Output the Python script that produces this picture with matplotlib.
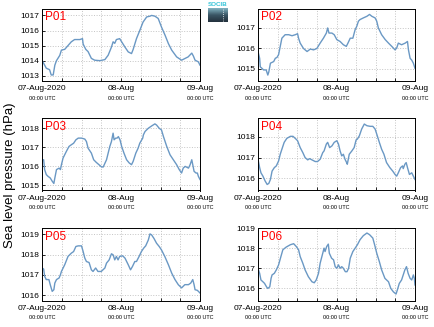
import numpy as np
import matplotlib
matplotlib.use('Agg')
import matplotlib.pyplot as plt
from matplotlib.colors import LinearSegmentedColormap

plt.rcParams['font.family'] = ['Liberation Sans', 'DejaVu Sans']

# Hours since 07-Aug-2020 00:00 UTC and sea level pressure (hPa) for each station
p01_hours = [0, 0.8, 1.3, 2.3, 2.8, 3.4, 3.9, 4.4, 5.4, 5.9, 6.9, 7.9, 8.9, 9.9, 11.5, 12.3, 12.5, 13.3,
             14.0, 15.0, 16.0, 17.6, 19.1, 20.1, 21.1, 21.6, 22.1, 22.6, 23.6, 24.2, 25.2, 26.2, 27.2,
             27.7, 28.7, 29.7, 30.7, 31.8, 32.8, 33.3, 34.3, 35.3, 36.3, 37.4, 38.4, 39.4, 40.9, 42.4,
             43.4, 44.4, 45.5, 46.0, 46.5, 47.5, 48]
p01_values = [1014.03, 1013.7, 1013.5, 1013.4, 1013.05, 1013.05, 1013.7, 1014.0, 1014.35, 1014.7, 1014.75,
              1015.0, 1015.25, 1015.4, 1015.4, 1015.46, 1015.1, 1014.75, 1014.6, 1014.15, 1014.03, 1014.0,
              1014.07, 1014.36, 1014.9, 1015.25, 1015.15, 1015.4, 1015.46, 1015.25, 1014.9, 1014.58,
              1014.47, 1014.75, 1015.46, 1016.0, 1016.56, 1016.9, 1016.95, 1017.0, 1016.95, 1016.8,
              1016.23, 1015.68, 1015.13, 1014.7, 1014.25, 1014.03, 1014.14, 1014.25, 1014.5, 1014.3,
              1014.03, 1013.92, 1013.7]

p02_hours = [0, 0.5, 0.7, 1.2, 1.7, 2.5, 3.0, 3.3, 3.8, 4.8, 5.3, 5.8, 6.3, 6.8, 7.3, 8.3, 9.4, 10.4, 11.4,
             12.1, 12.4, 12.9, 13.9, 15.0, 16.0, 17.0, 18.0, 19.0, 20.0, 20.9, 21.3, 21.7, 22.6, 23.3,
             24.1, 25.1, 26.1, 27.0, 27.5, 28.2, 29.0, 29.7, 30.2, 30.7, 31.2, 32.2, 33.3, 34.1, 34.8,
             35.8, 36.3, 36.8, 37.8, 38.9, 39.9, 40.9, 41.9, 42.4, 42.9, 43.9, 45.0, 45.7, 46.0, 46.5,
             47.0, 47.5, 48]
p02_values = [1015.85, 1015.52, 1015.1, 1015.03, 1014.95, 1014.95, 1014.7, 1014.85, 1015.28, 1015.36,
              1015.52, 1015.56, 1015.7, 1016.1, 1016.5, 1016.67, 1016.67, 1016.62, 1016.67, 1016.72,
              1016.5, 1016.26, 1016.0, 1015.85, 1015.97, 1015.93, 1016.0, 1016.26, 1016.5, 1016.75,
              1017.0, 1016.75, 1016.75, 1016.67, 1016.43, 1016.34, 1016.18, 1016.1, 1016.26, 1016.5,
              1016.5, 1016.92, 1017.08, 1017.33, 1017.41, 1017.49, 1017.57, 1017.66, 1017.57, 1017.49,
              1017.33, 1017.0, 1016.67, 1016.43, 1016.26, 1016.1, 1015.93, 1016.02, 1016.26, 1016.18,
              1016.26, 1016.34, 1015.93, 1015.52, 1015.43, 1015.28, 1015.03]

p03_hours = [0, 0.5, 0.8, 1.3, 1.8, 2.5, 3.1, 3.6, 3.9, 4.4, 5.2, 5.6, 5.9, 6.4, 7.4, 8.2, 8.9, 9.6, 10.3,
             11.0, 12.0, 13.0, 13.5, 14.0, 15.0, 15.7, 16.5, 17.3, 18.1, 18.6, 19.6, 20.6, 21.1, 21.6,
             21.9, 22.4, 22.8, 23.2, 23.7, 24.2, 24.9, 25.7, 26.5, 27.2, 27.7, 28.5, 29.2, 29.7, 30.6,
             30.8, 31.3, 32.3, 33.3, 34.3, 34.8, 35.6, 36.3, 36.9, 37.9, 38.9, 39.9, 40.9, 41.7, 42.4,
             42.9, 43.5, 44.5, 45.0, 45.5, 45.8, 46.2, 46.8, 47.2, 47.5, 48]
p03_values = [1016.34, 1016.34, 1015.82, 1015.56, 1015.47, 1015.38, 1015.21, 1015.09, 1015.38, 1015.82,
              1015.9, 1015.82, 1016.08, 1016.43, 1016.78, 1017.04, 1017.13, 1017.21, 1017.39, 1017.48,
              1017.48, 1017.43, 1017.3, 1016.95, 1016.69, 1016.34, 1016.2, 1016.08, 1015.96, 1015.96,
              1016.34, 1017.04, 1017.3, 1017.74, 1017.39, 1017.48, 1017.48, 1017.56, 1017.39, 1017.04,
              1016.69, 1016.34, 1016.17, 1016.08, 1016.26, 1016.69, 1016.95, 1017.21, 1017.48, 1017.65,
              1017.83, 1018.0, 1018.12, 1018.23, 1018.17, 1018.0, 1017.91, 1017.56, 1017.04, 1016.6,
              1016.34, 1016.08, 1015.82, 1015.64, 1015.9, 1015.99, 1015.9, 1016.08, 1016.34, 1016.08,
              1015.73, 1015.64, 1015.64, 1015.47, 1015.3]

p04_hours = [0, 0.5, 0.9, 1.5, 2.2, 2.8, 3.3, 3.8, 4.3, 5.0, 5.6, 6.3, 6.8, 7.3, 8.0, 8.8, 9.9, 10.7, 11.4,
             12.1, 12.9, 13.7, 14.4, 15.2, 15.8, 16.5, 17.5, 18.2, 19.0, 19.8, 20.2, 20.9, 21.3, 21.9,
             22.6, 23.3, 24.1, 24.6, 25.1, 25.6, 26.1, 26.6, 27.1, 27.3, 27.9, 28.7, 29.4, 30.0, 30.4,
             31.0, 31.7, 32.5, 33.3, 34.3, 35.1, 35.8, 36.3, 37.1, 37.8, 38.5, 39.3, 40.3, 41.2, 41.9,
             42.4, 42.9, 43.6, 44.2, 44.4, 44.9, 45.3, 45.7, 46.3, 47.0, 47.5, 48]
p04_values = [1016.92, 1016.52, 1016.27, 1016.11, 1015.87, 1015.71, 1015.76, 1015.95, 1016.35, 1016.52,
              1016.6, 1016.84, 1017.16, 1017.4, 1017.73, 1017.92, 1018.02, 1018.02, 1017.92, 1017.81,
              1017.48, 1017.24, 1017.0, 1016.89, 1016.95, 1016.89, 1016.81, 1016.81, 1016.92, 1017.24,
              1017.32, 1017.65, 1017.73, 1017.48, 1017.56, 1017.73, 1017.81, 1017.65, 1017.32, 1017.08,
              1017.16, 1016.92, 1016.76, 1016.68, 1017.16, 1017.32, 1017.48, 1017.85, 1017.89, 1018.05,
              1018.37, 1018.61, 1018.53, 1018.5, 1018.5, 1018.37, 1018.13, 1017.73, 1017.4, 1017.16,
              1016.76, 1016.52, 1016.35, 1016.19, 1016.11, 1016.27, 1016.52, 1016.6, 1016.47, 1016.68,
              1016.76, 1016.52, 1016.19, 1016.27, 1016.11, 1015.95]

p05_hours = [0, 0.5, 0.8, 1.3, 2.1, 2.5, 3.1, 3.6, 3.9, 4.4, 5.2, 5.6, 5.9, 6.9, 7.9, 8.9, 9.6, 10.3, 11.0,
             12.0, 12.5, 13.0, 13.5, 14.3, 15.0, 15.5, 16.3, 17.0, 18.0, 19.1, 19.6, 20.4, 21.1, 21.6,
             22.1, 22.6, 23.1, 23.6, 24.5, 25.2, 26.2, 26.9, 27.5, 28.2, 28.7, 29.5, 30.2, 30.9, 31.5,
             32.3, 32.8, 33.3, 34.0, 34.8, 35.6, 36.3, 37.3, 38.4, 39.4, 40.4, 41.4, 42.4, 42.9, 43.4,
             44.5, 45.2, 45.8, 46.2, 46.5, 47.2, 48]
p05_values = [1017.34, 1017.29, 1016.93, 1016.77, 1016.77, 1016.52, 1016.19, 1016.27, 1016.6, 1016.77,
              1016.85, 1017.01, 1017.17, 1017.5, 1017.91, 1018.07, 1018.15, 1018.4, 1018.43, 1018.43,
              1018.15, 1017.83, 1017.66, 1017.61, 1017.25, 1017.17, 1017.34, 1017.17, 1017.17, 1017.34,
              1017.58, 1017.74, 1018.04, 1017.99, 1017.74, 1017.91, 1017.74, 1017.91, 1017.94, 1017.83,
              1017.5, 1017.25, 1017.42, 1017.66, 1017.66, 1017.91, 1018.15, 1018.32, 1018.43, 1018.72,
              1019.02, 1018.97, 1018.8, 1018.56, 1018.4, 1018.23, 1017.91, 1017.5, 1017.09, 1016.77,
              1016.52, 1016.36, 1016.44, 1016.52, 1016.52, 1016.6, 1016.77, 1016.52, 1016.27, 1016.24,
              1016.11]

p06_hours = [0, 0.5, 0.9, 1.5, 2.0, 2.6, 3.0, 3.6, 4.0, 4.3, 5.0, 5.6, 6.3, 7.0, 7.6, 8.6, 9.9, 10.9, 11.7,
             12.4, 12.9, 13.7, 14.4, 15.4, 16.5, 17.2, 17.8, 18.5, 19.0, 19.8, 20.2, 20.5, 21.0, 21.5,
             21.8, 22.5, 23.1, 23.6, 24.1, 24.6, 25.1, 25.6, 26.1, 26.7, 27.2, 27.7, 28.2, 29.0, 29.7,
             30.4, 31.2, 32.2, 33.3, 34.1, 35.1, 35.8, 36.3, 37.1, 37.8, 38.8, 39.9, 40.6, 41.4, 42.2,
             42.6, 43.2, 43.9, 44.4, 44.9, 45.4, 45.9, 46.5, 47.0, 47.5, 47.8, 48]
p06_values = [1017.0, 1016.75, 1016.42, 1016.33, 1016.25, 1016.08, 1016.0, 1016.08, 1016.5, 1016.67,
              1016.75, 1016.92, 1017.17, 1017.58, 1017.92, 1018.05, 1018.17, 1018.22, 1018.08, 1017.92,
              1017.58, 1017.25, 1016.92, 1016.58, 1016.33, 1016.28, 1016.42, 1016.75, 1017.25, 1017.75,
              1018.0, 1017.83, 1018.08, 1018.2, 1017.75, 1017.5, 1017.42, 1017.08, 1017.0, 1017.17,
              1017.0, 1017.08, 1017.0, 1016.83, 1016.83, 1017.0, 1017.5, 1017.83, 1018.0, 1018.17,
              1018.42, 1018.62, 1018.75, 1018.67, 1018.5, 1018.08, 1017.75, 1017.33, 1016.92, 1016.5,
              1016.33, 1016.0, 1015.83, 1015.72, 1015.92, 1016.25, 1016.42, 1016.67, 1016.92, 1017.08,
              1016.75, 1016.5, 1016.42, 1016.67, 1016.5, 1016.17]

stations = ['P01', 'P02', 'P03', 'P04', 'P05', 'P06']
series = [(p01_hours, p01_values), (p02_hours, p02_values), (p03_hours, p03_values),
          (p04_hours, p04_values), (p05_hours, p05_values), (p06_hours, p06_values)]
ylims = [(1012.65, 1017.46), (1014.41, 1017.95), (1014.72, 1018.54),
         (1015.42, 1018.9), (1015.74, 1019.31), (1015.4, 1019.0)]
yticks = [range(1013, 1018), range(1015, 1018), range(1015, 1019),
          range(1016, 1019), range(1016, 1020), range(1016, 1020)]
date_ticks = [0, 24, 48]
date_labels = ['07-Aug-2020', '08-Aug', '09-Aug']

W, H = 434, 327
fig = plt.figure(figsize=(W / 100, H / 100), dpi=100)

col_x = [42, 258]
col_w = [158, 157]
row_top = [8.5, 118, 228]
row_h = 72.5

for i, name in enumerate(stations):
    r, c = divmod(i, 2)
    ax = fig.add_axes([col_x[c] / W, 1 - (row_top[r] + row_h) / H, col_w[c] / W, row_h / H])
    hrs, vals = series[i]
    ax.plot(hrs, vals, color='#6a98c4', lw=1.0)
    ax.set_xlim(0, 48)
    ax.set_ylim(*ylims[i])
    ax.set_yticks(list(yticks[i]))
    ax.set_xticks(date_ticks)
    ax.set_xticks(np.arange(6, 48, 6), minor=True)
    ax.set_xticklabels(date_labels)
    ax.grid(True, which='both', ls=':', color='#c4c4c4', lw=0.7)
    ax.tick_params(axis='both', which='both', direction='in', length=2, width=0.6,
                   labelsize=6, pad=2)
    ax.tick_params(axis='x', pad=3)
    for s in ax.spines.values():
        s.set_linewidth(0.7)
    for t in date_ticks:
        ax.annotate('00:00 UTC', xy=(t, 0), xycoords=('data', 'axes fraction'),
                    xytext=(0, -10.5), textcoords='offset points',
                    ha='center', va='top', fontsize=4)
    ax.text(0.02, 0.96, name, transform=ax.transAxes, color='red',
            fontsize=8.5, ha='left', va='top')

fig.text(10 / W, 1 - 175 / H, 'Sea level pressure (hPa)', rotation=90,
         ha='center', va='center', fontsize=9.5)

# small SOCIB logo
lax = fig.add_axes([208 / W, 1 - 22 / H, 20 / W, 14 / H])
cmap = LinearSegmentedColormap.from_list('logo', ['#7fb0bf', '#3a5564', '#24323e'])
lax.imshow(np.linspace(0, 1, 20).reshape(-1, 1), aspect='auto', cmap=cmap,
           extent=[0, 1, 0, 1])
lax.plot([0.75, 0.75], [0.1, 0.9], color='white', ls=':', lw=0.6)
lax.set_xlim(0, 1)
lax.set_ylim(0, 1)
lax.axis('off')
fig.text(218 / W, 1 - 5 / H, 'SOCIB', color='#33c4d8', fontsize=4.5,
         ha='center', va='center', fontweight='bold')

fig.savefig('out.png', dpi=100)
